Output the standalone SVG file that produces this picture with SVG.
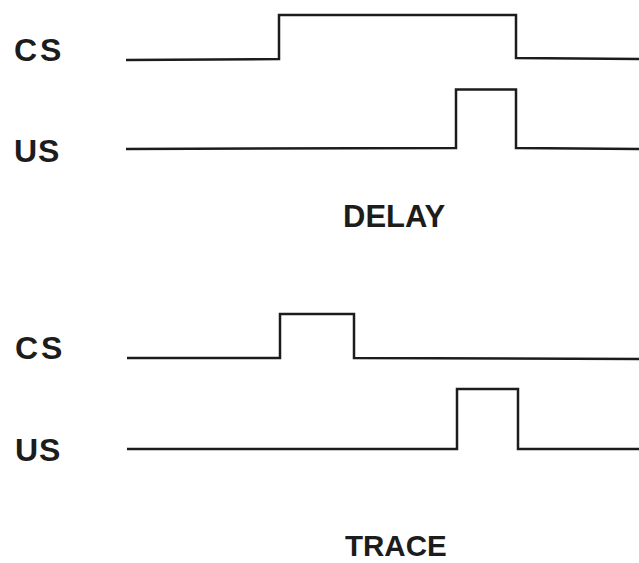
<svg xmlns="http://www.w3.org/2000/svg" width="639" height="563" viewBox="0 0 639 563">
<style>
.lbl{font-family:"Liberation Sans",Arial,sans-serif;font-weight:bold;fill:#1c1c1c}
.sig{fill:none;stroke:#1c1c1c;stroke-width:2.5;stroke-linejoin:miter}
</style>
<rect width="639" height="563" fill="#fff"/>
<g id="delay-cs"><text class="lbl" x="14" y="61" font-size="32" letter-spacing="3">CS</text></g>
<g id="delay-us"><text class="lbl" x="14" y="162" font-size="32" letter-spacing="1">US</text></g>
<g id="delay-title"><text class="lbl" x="343" y="227" font-size="31">DELAY</text></g>
<g id="trace-cs"><text class="lbl" x="15" y="359" font-size="32" letter-spacing="3">CS</text></g>
<g id="trace-us"><text class="lbl" x="15" y="461" font-size="32" letter-spacing="1">US</text></g>
<g id="trace-title"><text class="lbl" x="345" y="556" font-size="29.5">TRACE</text></g>
<g id="connectors">
<polyline class="sig" points="126,60 279,59 279,15 516,15 516,58 639,59"/>
<polyline class="sig" points="126,149 456,148 456,89.5 516,89.5 516,148 639,149"/>
<polyline class="sig" points="127,358 280,358 280,314 354,314 354,358 639,359"/>
<polyline class="sig" points="127,449 457,449 457,389 518,389 518,449 639,449"/>
</g>
</svg>
